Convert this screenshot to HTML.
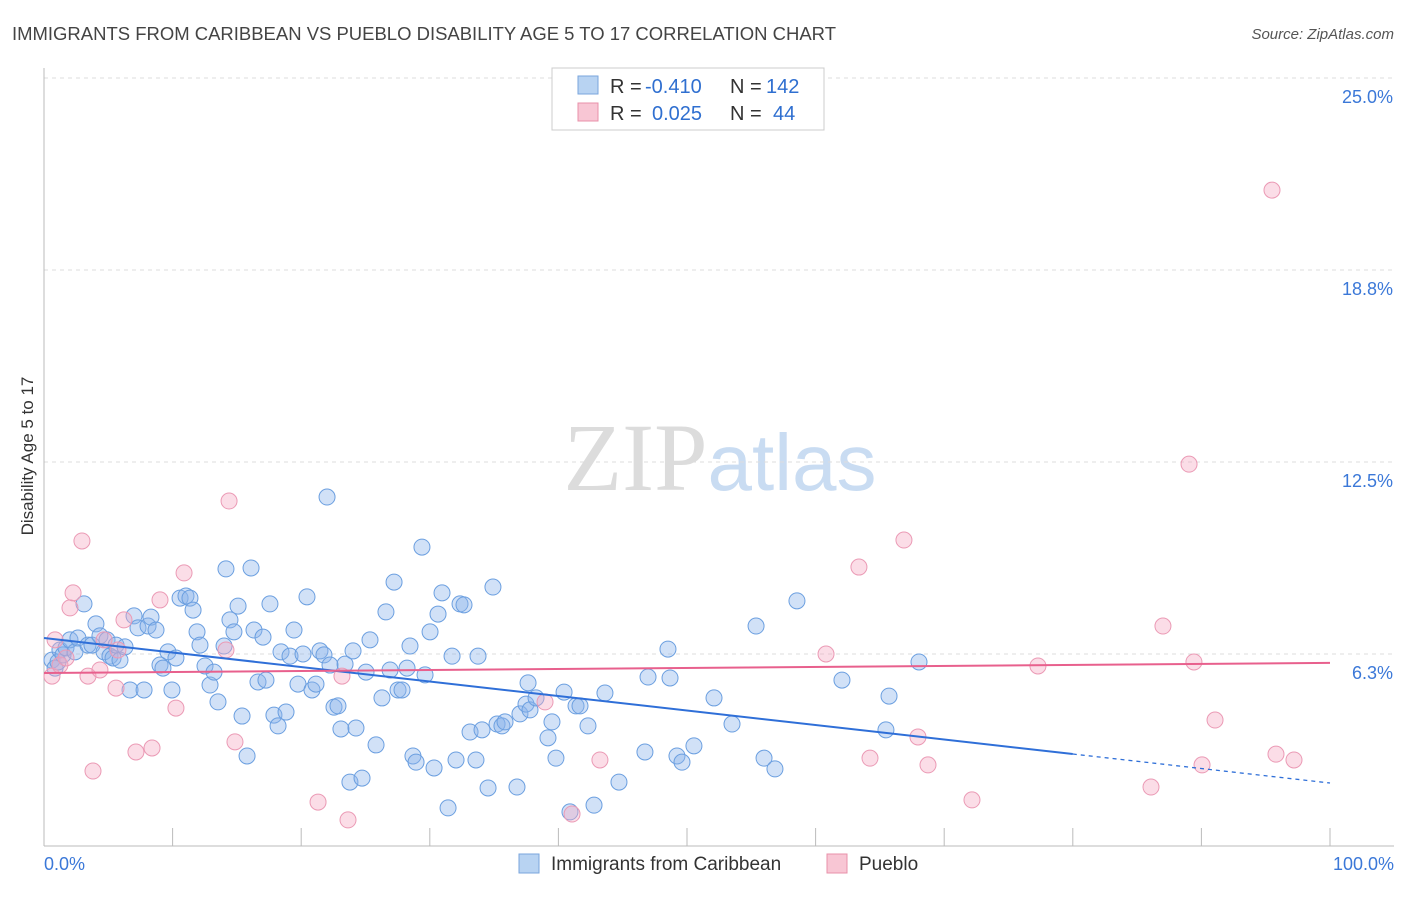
<!DOCTYPE html>
<html><head><meta charset="utf-8"><style>
body{margin:0;background:#fff;font-family:"Liberation Sans",sans-serif;}
svg text{font-family:"Liberation Sans",sans-serif;}
</style></head><body>
<svg id="chart" width="1406" height="892" viewBox="0 0 1406 892" xmlns="http://www.w3.org/2000/svg">
<text x="12" y="40" font-size="18.5" fill="#444" textLength="824" lengthAdjust="spacingAndGlyphs">IMMIGRANTS FROM CARIBBEAN VS PUEBLO DISABILITY AGE 5 TO 17 CORRELATION CHART</text>
<text x="1394" y="39" font-size="15" fill="#555" text-anchor="end" font-style="italic">Source: ZipAtlas.com</text>
<text x="720" y="490" font-size="96" text-anchor="middle"><tspan fill="#dcdcdc" font-family="Liberation Serif">ZIP</tspan><tspan fill="#c9dcf2" font-size="80">atlas</tspan></text>
<text transform="translate(33,456) rotate(-90)" font-size="17" fill="#333" text-anchor="middle">Disability Age 5 to 17</text>
<g id="grid"></g><g id="axes"></g><g id="pts"></g><g id="trend"></g>
<g>
<rect x="552" y="68" width="272" height="62" fill="#fff" stroke="#ccc"/>
<rect x="578" y="76" width="20" height="18" fill="#b8d3f2" stroke="#7aa6dc"/>
<text x="610" y="93" font-size="20" fill="#333">R =</text>
<text x="645" y="93" font-size="20" fill="#2f6fd0">-0.410</text>
<text x="730" y="93" font-size="20" fill="#333">N =</text>
<text x="766" y="93" font-size="20" fill="#2f6fd0">142</text>
<rect x="578" y="103" width="20" height="18" fill="#f8c6d4" stroke="#e890aa"/>
<text x="610" y="120" font-size="20" fill="#333">R =</text>
<text x="652" y="120" font-size="20" fill="#2f6fd0">0.025</text>
<text x="730" y="120" font-size="20" fill="#333">N =</text>
<text x="773" y="120" font-size="20" fill="#2f6fd0">44</text>
</g>
<g>
<rect x="519" y="854" width="20" height="19" fill="#b8d3f2" stroke="#7aa6dc"/>
<text x="551" y="870" font-size="19" fill="#333">Immigrants from Caribbean</text>
<rect x="827" y="854" width="20" height="19" fill="#f8c6d4" stroke="#e890aa"/>
<text x="859" y="870" font-size="19" fill="#333">Pueblo</text>
</g>
</svg>
<script>
const blueX=[.62,.86,1.09,1.24,1.48,1.71,2.02,2.41,2.64,3.11,3.42,3.73,4.04,4.35,4.67,4.90,5.13,5.37,5.60,5.91,6.30,6.69,7.00,7.31,7.78,8.09,8.32,8.71,9.02,9.25,9.64,9.95,10.26,10.58,11.04,11.35,11.59,11.90,12.13,12.52,12.91,13.22,13.53,14.00,14.15,14.46,14.77,15.09,15.40,15.79,16.10,16.33,16.64,17.03,17.26,17.57,17.88,18.20,18.43,18.82,19.13,19.44,19.75,20.14,20.45,20.84,21.15,21.46,21.77,22.01,22.24,22.55,22.86,23.09,23.41,23.79,24.03,24.26,24.73,25.04,25.35,25.82,26.28,26.59,26.91,27.22,27.53,27.84,28.23,28.46,28.69,28.93,29.39,29.63,30.02,30.33,30.64,30.95,31.42,31.73,32.04,32.35,32.66,33.13,33.59,33.75,34.06,34.53,34.91,35.23,35.61,35.85,36.78,37.01,37.48,37.64,37.79,38.26,39.19,39.50,39.81,40.44,40.90,41.37,41.68,42.30,42.77,43.62,44.71,46.73,46.97,48.52,48.68,49.22,49.61,50.54,52.10,53.50,55.37,55.99,56.84,58.55,62.05,65.47,65.71,68.04];
const blueY=[6.05,5.79,5.99,6.38,6.22,6.45,6.71,6.32,6.77,7.88,6.54,6.54,7.23,6.84,6.32,6.71,6.18,6.12,6.54,6.05,6.48,5.08,7.49,7.10,5.08,7.16,7.45,7.03,5.89,5.79,6.32,5.08,6.12,8.07,8.14,8.07,7.68,6.97,6.54,5.86,5.24,5.66,4.69,6.51,9.02,7.36,6.97,7.81,4.23,2.93,9.05,7.03,5.34,6.80,5.40,7.88,4.26,3.91,6.32,4.36,6.18,7.03,5.27,6.25,8.11,5.08,5.27,6.35,6.22,11.36,5.89,4.52,4.56,3.81,5.92,2.08,6.35,3.84,2.21,5.66,6.71,3.29,4.82,7.62,5.73,8.59,5.08,5.08,5.79,6.51,2.93,2.73,9.73,5.57,6.97,2.54,7.55,8.24,1.24,6.18,2.80,7.88,7.85,3.71,2.80,6.18,3.78,1.89,8.43,3.97,3.91,4.04,1.92,4.30,4.62,5.31,4.43,4.82,3.52,4.04,2.86,5.01,1.11,4.56,4.56,3.91,1.33,4.98,2.08,3.06,5.50,6.41,5.47,2.93,2.73,3.26,4.82,3.97,7.16,2.86,2.51,7.98,5.40,3.78,4.88,5.99];
const pinkX=[.62,.86,1.24,1.71,2.02,2.26,2.95,3.42,3.81,4.35,4.67,5.60,5.75,6.22,7.15,8.40,9.02,10.26,10.89,14.15,14.39,14.85,21.31,23.17,23.64,38.96,41.06,43.23,60.81,63.37,64.23,66.87,67.96,68.74,72.16,77.29,86.08,87.01,89.04,89.42,90.05,91.06,95.49,95.80,97.20];
const pinkY=[5.53,6.71,5.89,6.12,7.75,8.24,9.93,5.53,2.44,5.73,6.71,5.14,6.38,7.36,3.06,3.19,8.01,4.49,8.89,6.38,11.23,3.39,1.43,5.53,0.85,4.69,1.04,2.80,6.25,9.08,2.86,9.96,3.55,2.64,1.50,5.86,1.92,7.16,12.43,5.99,2.64,4.10,21.35,2.99,2.80];
const yTicks=[6.25,12.5,18.75,25];
const yTickLabels=["6.3%","12.5%","18.8%","25.0%"];
const xTicks=[0,10,20,30,40,50,60,70,80,90,100];
const blueTrend=[6.77,2.05];
const blueSolidEnd=80;
const pinkTrend=[5.63,5.96];

const NS="http://www.w3.org/2000/svg";
const X=v=>44+v*12.86, Y=v=>846-v*30.72;
function mk(tag,attrs,parent){const e=document.createElementNS(NS,tag);for(const k in attrs)e.setAttribute(k,attrs[k]);parent.appendChild(e);return e;}
const grid=document.getElementById('grid'),axes=document.getElementById('axes'),pts=document.getElementById('pts'),trend=document.getElementById('trend');
yTicks.forEach((t,i)=>{
 const l=mk('line',{x1:44,x2:1394,y1:Y(t),y2:Y(t),stroke:'#ddd','stroke-dasharray':'4,4'},grid);
 
 
 const tx=mk('text',{x:1393,y:Y(t)+25,'font-size':18,fill:'#3b78d8','text-anchor':'end'},axes);
 tx.textContent=yTickLabels[i];
 
 
});
const ax=mk('line',{x1:44,x2:44,y1:68,y2:846,stroke:'#bbb'},axes);


const bx=mk('line',{x1:44,x2:1394,y1:846,y2:846,stroke:'#bbb'},axes);


xTicks.forEach(t=>{
 const l=mk('line',{x1:X(t),x2:X(t),y1:828,y2:846,stroke:'#bbb'},axes);
 
 
});
const x0=mk('text',{x:44,y:870,'font-size':18,fill:'#3b78d8'},axes);x0.textContent='0.0%';


const x1=mk('text',{x:1394,y:870,'font-size':18,fill:'#3b78d8','text-anchor':'end'},axes);x1.textContent='100.0%';


blueX.forEach((v,i)=>{
 const c=mk('circle',{cx:X(v),cy:Y(blueY[i]),r:8,fill:'rgba(140,180,235,0.4)',stroke:'#6b9fe0','stroke-width':1},pts);
 
 
});
pinkX.forEach((v,i)=>{
 const c=mk('circle',{cx:X(v),cy:Y(pinkY[i]),r:8,fill:'rgba(245,170,195,0.4)',stroke:'#eb9ab5','stroke-width':1},pts);
 
 
});
const bAt=x=>blueTrend[0]+(blueTrend[1]-blueTrend[0])*x/100;
const bl=mk('line',{x1:X(0),y1:Y(bAt(0)),x2:X(blueSolidEnd),y2:Y(bAt(blueSolidEnd)),stroke:'#2f6fd8','stroke-width':2},trend);


const bd=mk('line',{x1:X(blueSolidEnd),y1:Y(bAt(blueSolidEnd)),x2:X(100),y2:Y(bAt(100)),stroke:'#2f6fd8','stroke-width':1.3,'stroke-dasharray':'4,4'},trend);


const pl=mk('line',{x1:X(0),y1:Y(pinkTrend[0]),x2:X(100),y2:Y(pinkTrend[1]),stroke:'#e8608d','stroke-width':2},trend);


</script>
</body></html>
